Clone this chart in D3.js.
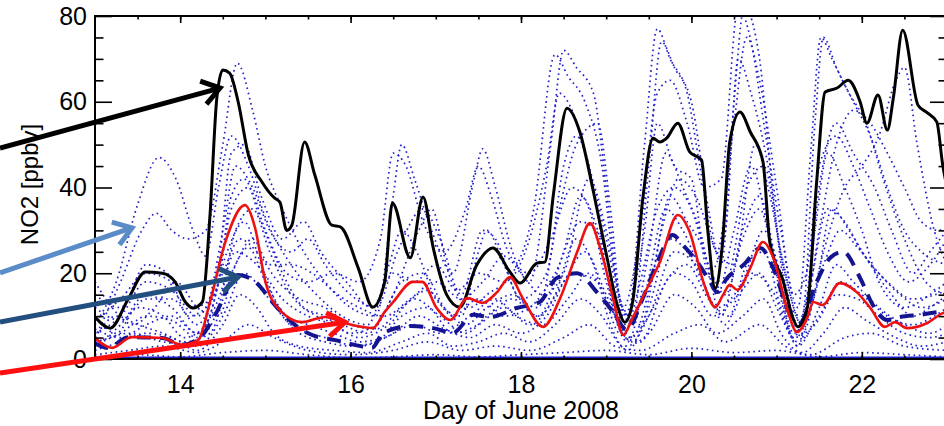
<!DOCTYPE html>
<html lang="en">
<head>
    <meta charset="UTF-8">
    <title>NO2 June 2008</title>
    <script src="https://cdn.jsdelivr.net/npm/d3@7"></script>
    <style>
        body{margin:0;background:#fff;}
        text{font-family:"Liberation Sans",Helvetica,Arial,sans-serif;fill:#000;}
        .axis path{display:none;}
        .axis line{stroke:#000;stroke-width:1.6;}
        .axis text{font-size:25px;}
        .member{fill:none;stroke:#1f1fcc;stroke-width:1.7;stroke-dasharray:1.6 3.6;}
    </style>
</head>
<body>
<div class="app"></div>
<script>
    // tick values
    var xMajor = [14,16,18,20,22];
    var xMinor = [13.5,14,14.5,15,15.5,16,16.5,17,17.5,18,18.5,19,19.5,20,20.5,21,21.5,22,22.5];
    var yMajor = [0,20,40,60,80];
    var yMinor = [5,10,15,25,30,35,45,50,55,65,70,75];

    // observed (black)
    var observed = [[13.00,9.8],[13.18,7.2],[13.39,14],[13.59,20.3],[13.79,20],[13.94,18],[14.06,13.3],[14.15,11.9],[14.26,13.3],
        [14.35,33.6],[14.43,60.9],[14.50,67.4],[14.58,66.7],[14.68,60],[14.80,47.6],[14.96,41.3],[15.11,37.5],[15.17,36.6],
        [15.25,30],[15.31,31.2],[15.46,50.6],[15.58,42.9],[15.78,31.2],[15.88,30.8],[16.09,21.2],[16.26,12.1],[16.40,18],
        [16.49,36.4],[16.70,23.6],[16.85,37.8],[16.97,25.9],[17.13,14.9],[17.28,12.1],[17.48,21.9],[17.67,25.9],[17.87,20.3],
        [17.99,17.7],[18.19,22.4],[18.28,22.6],[18.38,38.3],[18.54,58.5],[18.69,53],[18.85,39],[19.01,23.6],[19.13,12.6],
        [19.22,8.6],[19.31,13.3],[19.43,37.5],[19.55,51.5],[19.63,50.6],[19.71,51.5],[19.84,55],[19.98,48.3],[20.12,46.4],
        [20.19,30.5],[20.28,16.5],[20.36,25.9],[20.45,50.6],[20.57,57.6],[20.69,53],[20.84,46],[20.92,27.3],[21.08,18],
        [21.19,9.6],[21.25,7.5],[21.36,11.9],[21.47,41.3],[21.57,62.3],[21.71,63.2],[21.84,65],[21.98,60],[22.06,55],
        [22.19,61.6],[22.30,53.4],[22.37,60.9],[22.48,76.7],[22.66,59.2],[22.77,57.4],[22.88,55.3],[22.95,45.2],[23.00,40]];

    // model (red)
    var model = [[13.00,4.9],[13.20,2.6],[13.43,5.1],[13.79,4.9],[14.02,3.3],[14.21,4.4],[14.35,13.3],[14.53,27.3],[14.76,35.9],
        [14.88,30.5],[15.00,18],[15.19,11],[15.43,8.6],[15.70,9.8],[15.90,8.6],[16.13,7.5],[16.26,7.2],[16.40,11],[16.50,13.3],
        [16.73,18],[16.84,18],[17.01,11.9],[17.17,9.1],[17.37,14.2],[17.55,13.1],[17.72,15.6],[17.87,19.1],[18.02,14.2],
        [18.26,7.5],[18.46,14.2],[18.66,25],[18.81,31.7],[18.93,25.9],[19.08,14.2],[19.20,5.6],[19.31,9.6],[19.48,16.5],
        [19.63,22.6],[19.84,33.6],[19.98,29.6],[20.14,18],[20.28,12.1],[20.37,14.9],[20.45,17.3],[20.54,16.1],[20.69,21.2],
        [20.84,27.3],[20.98,22.6],[21.12,11.9],[21.24,6.3],[21.36,9.6],[21.43,13.3],[21.54,12.6],[21.74,17.7],[21.94,15.6],
        [22.10,11.9],[22.27,7.5],[22.39,8.6],[22.53,7.2],[22.77,8.4],[22.95,10.7],[23.00,11]];

    // ensemble mean (dashed)
    var ensMean = [[13.00,3.7],[13.15,2.6],[13.39,5.1],[13.79,4.9],[14.02,3.3],[14.26,5.6],[14.41,10.3],[14.68,19.6],[14.88,18],
        [15.11,12.6],[15.35,7.9],[15.55,5.6],[15.82,4.4],[16.05,3.3],[16.25,2.6],[16.38,6],[16.70,7.7],[16.97,7.2],[17.20,6.1],
        [17.44,10.3],[17.64,9.8],[17.95,11.9],[18.22,13.3],[18.42,18.9],[18.66,20],[18.89,15.6],[19.08,11],[19.24,6.8],
        [19.43,14.2],[19.60,22.6],[19.78,28.9],[19.90,26.6],[20.07,22.6],[20.22,18],[20.30,15.6],[20.42,18.9],[20.61,21.9],
        [20.81,25.9],[20.96,21.2],[21.16,10.3],[21.27,8.4],[21.47,18],[21.63,23.6],[21.78,25],[21.98,18.9],[22.13,12.6],
        [22.30,9.1],[22.45,9.8],[22.68,10.3],[22.95,11],[23.00,11]];

    // ensemble members (dotted)
    var m01 = [[13.0,8],[13.25,18],[13.5,36],[13.75,47],[13.95,42],[14.15,30],[14.3,24],[14.45,40],[14.6,52],[14.8,45],[15.0,33],[15.3,22],[15.6,15],[15.9,10],[16.2,8],[16.45,22],[16.6,30],[16.8,24],[17.0,14],[17.3,10],[17.5,25],[17.6,30],[17.8,22],[18.0,14],[18.3,20],[18.5,45],[18.65,52],[18.85,40],[19.05,15],[19.25,4],[19.5,25],[19.7,48],[19.9,40],[20.1,30],[20.3,15],[20.5,30],[20.7,45],[20.9,30],[21.1,10],[21.25,3],[21.45,30],[21.6,48],[21.8,40],[22.0,30],[22.2,18],[22.5,12],[22.8,15],[23.0,18]];
    var m02 = [[13.0,5],[13.3,18],[13.55,30],[13.72,34],[13.9,30],[14.1,28],[14.3,30],[14.5,50],[14.67,69],[14.85,58],[15.0,45],[15.2,35],[15.45,25],[15.7,18],[16.0,12],[16.3,10],[16.5,38],[16.6,50],[16.75,42],[16.95,30],[17.2,20],[17.45,42],[17.55,49],[17.7,40],[17.9,25],[18.1,18],[18.35,50],[18.5,72],[18.65,68],[18.85,62],[19.0,40],[19.15,15],[19.3,8],[19.5,45],[19.65,74],[19.8,68],[20.0,60],[20.2,35],[20.35,22],[20.5,60],[20.62,82],[20.8,70],[20.95,40],[21.15,12],[21.3,10],[21.45,55],[21.55,75],[21.7,68],[21.9,60],[22.1,52],[22.3,40],[22.5,30],[22.7,25],[23.0,22]];
    var m03 = [[13.0,15],[13.3,12],[13.6,22],[13.85,20],[14.1,10],[14.3,12],[14.5,30],[14.65,45],[14.85,40],[15.05,30],[15.3,25],[15.5,28],[15.7,22],[16.0,15],[16.3,12],[16.55,25],[16.85,35],[17.05,28],[17.3,15],[17.55,30],[17.7,28],[17.95,15],[18.2,12],[18.45,35],[18.65,50],[18.9,55],[19.05,35],[19.2,10],[19.45,30],[19.6,55],[19.8,45],[20.0,42],[20.2,20],[20.4,30],[20.55,70],[20.7,62],[20.9,45],[21.1,18],[21.3,5],[21.5,40],[21.7,55],[21.9,48],[22.15,40],[22.35,30],[22.6,20],[22.8,25],[23.0,30]];
    var m04 = [[13.0,3],[13.3,8],[13.6,15],[13.9,12],[14.2,6],[14.45,18],[14.6,38],[14.75,42],[14.95,32],[15.2,20],[15.45,12],[15.7,10],[16.0,6],[16.3,8],[16.6,18],[16.85,20],[17.1,12],[17.35,8],[17.6,12],[17.9,15],[18.2,10],[18.5,25],[18.7,38],[18.9,30],[19.1,12],[19.3,5],[19.55,20],[19.75,38],[19.95,32],[20.15,25],[20.35,10],[20.6,30],[20.8,38],[21.0,22],[21.2,6],[21.45,15],[21.65,35],[21.85,30],[22.1,22],[22.35,15],[22.6,10],[22.8,12],[23.0,15]];
    var m05 = [[13.0,10],[13.25,6],[13.5,12],[13.8,10],[14.05,5],[14.3,8],[14.55,25],[14.75,32],[14.95,22],[15.15,12],[15.4,6],[15.7,4],[16.0,3],[16.3,4],[16.6,10],[16.9,12],[17.2,6],[17.5,8],[17.8,12],[18.1,8],[18.4,15],[18.65,28],[18.85,22],[19.05,8],[19.25,2],[19.5,12],[19.75,28],[19.95,25],[20.2,15],[20.4,8],[20.65,22],[20.85,25],[21.05,12],[21.25,3],[21.5,12],[21.7,22],[21.9,18],[22.2,12],[22.5,8],[22.8,6],[23.0,8]];
    var m06 = [[13.0,2],[13.3,4],[13.6,6],[13.9,5],[14.2,2],[14.5,8],[14.7,15],[14.9,12],[15.1,6],[15.4,3],[15.8,2],[16.2,1.5],[16.6,4],[16.9,6],[17.2,3],[17.5,4],[17.8,6],[18.1,4],[18.4,8],[18.7,14],[18.95,10],[19.2,3],[19.5,6],[19.8,15],[20.05,12],[20.3,6],[20.6,10],[20.85,14],[21.05,6],[21.3,1.5],[21.55,6],[21.8,12],[22.05,9],[22.4,5],[22.7,3],[23.0,4]];
    var m07 = [[13.0,6],[13.3,10],[13.6,18],[13.9,16],[14.2,10],[14.45,22],[14.6,48],[14.75,50],[14.95,38],[15.2,28],[15.45,32],[15.65,25],[15.95,18],[16.25,12],[16.5,20],[16.75,18],[17.0,22],[17.25,16],[17.5,20],[17.8,18],[18.05,25],[18.3,45],[18.45,62],[18.6,58],[18.8,45],[19.0,28],[19.2,12],[19.4,30],[19.6,62],[19.75,65],[19.95,55],[20.15,40],[20.35,42],[20.55,82],[20.7,74],[20.85,55],[21.05,30],[21.25,12],[21.4,48],[21.52,75],[21.65,70],[21.85,62],[22.05,55],[22.25,42],[22.5,28],[22.75,18],[23.0,15]];
    var m08 = [[13.0,4],[13.3,6],[13.6,10],[13.9,9],[14.2,5],[14.45,12],[14.65,30],[14.85,35],[15.05,25],[15.3,15],[15.6,10],[15.9,8],[16.2,6],[16.5,15],[16.8,30],[16.95,35],[17.15,20],[17.4,12],[17.6,15],[17.9,20],[18.15,35],[18.4,71],[18.55,66],[18.75,60],[18.95,45],[19.1,20],[19.25,10],[19.45,50],[19.6,77],[19.75,70],[19.95,62],[20.1,45],[20.3,25],[20.5,55],[20.65,75],[20.8,65],[21.0,40],[21.2,15],[21.35,20],[21.5,45],[21.7,52],[21.9,45],[22.1,35],[22.3,25],[22.55,18],[22.8,22],[23.0,28]];
    var m09 = [[13.0,12],[13.3,9],[13.6,14],[13.9,14],[14.2,8],[14.5,20],[14.7,28],[14.9,25],[15.15,18],[15.4,14],[15.7,12],[16.0,8],[16.3,7],[16.6,12],[16.9,16],[17.2,10],[17.5,14],[17.8,10],[18.1,12],[18.4,20],[18.7,32],[18.95,28],[19.2,8],[19.45,15],[19.7,35],[19.9,30],[20.15,20],[20.4,18],[20.65,40],[20.85,45],[21.05,25],[21.3,8],[21.5,30],[21.7,50],[21.9,58],[22.1,55],[22.3,48],[22.5,40],[22.7,32],[22.9,30],[23.0,31]];
    var m10 = [[13.0,7],[13.3,5],[13.6,8],[13.9,10],[14.2,6],[14.45,14],[14.65,25],[14.9,22],[15.2,14],[15.5,10],[15.8,8],[16.1,5],[16.45,8],[16.75,14],[17.05,10],[17.35,6],[17.6,10],[17.9,14],[18.2,10],[18.5,18],[18.75,25],[19.0,15],[19.25,5],[19.5,10],[19.8,25],[20.05,22],[20.3,12],[20.6,18],[20.85,30],[21.05,20],[21.3,6],[21.55,25],[21.8,40],[22.0,45],[22.2,52],[22.4,65],[22.5,68],[22.65,50],[22.85,30],[23.0,22]];
    var m11 = [[13.0,1],[13.4,2],[13.8,3],[14.2,1.5],[14.5,4],[14.8,8],[15.1,5],[15.5,2],[16.0,1],[16.5,2],[16.9,4],[17.3,2],[17.7,3],[18.1,2],[18.5,5],[18.8,8],[19.1,3],[19.4,2],[19.8,6],[20.1,8],[20.4,4],[20.8,8],[21.1,3],[21.4,1],[21.8,5],[22.1,6],[22.5,3],[23.0,2]];
    var m12 = [[13.0,18],[13.2,12],[13.45,8],[13.7,12],[13.95,18],[14.2,12],[14.45,10],[14.65,22],[14.85,28],[15.05,22],[15.3,22],[15.55,20],[15.85,15],[16.1,12],[16.4,10],[16.7,14],[17.0,18],[17.3,14],[17.55,18],[17.8,24],[18.0,20],[18.25,15],[18.5,20],[18.8,42],[19.0,30],[19.2,12],[19.4,8],[19.65,30],[19.85,42],[20.05,38],[20.3,25],[20.5,22],[20.75,50],[20.9,40],[21.1,20],[21.3,8],[21.55,22],[21.75,30],[21.95,26],[22.2,20],[22.45,15],[22.7,12],[23.0,14]];
    var m13 = [[13.0,5],[13.25,10],[13.5,8],[13.8,6],[14.05,4],[14.35,6],[14.6,20],[14.8,26],[15.0,18],[15.25,10],[15.5,8],[15.8,6],[16.1,4],[16.4,5],[16.75,8],[17.05,6],[17.4,10],[17.7,14],[17.95,10],[18.25,8],[18.55,14],[18.8,20],[19.05,12],[19.3,4],[19.55,12],[19.8,20],[20.0,18],[20.25,10],[20.55,15],[20.8,20],[21.0,12],[21.25,4],[21.5,10],[21.75,18],[22.0,15],[22.3,10],[22.6,8],[22.85,10],[23.0,12]];
    var m14 = [[13.0,9],[13.3,14],[13.6,20],[13.9,18],[14.15,12],[14.4,15],[14.6,35],[14.8,40],[15.0,30],[15.25,20],[15.5,18],[15.8,20],[16.1,18],[16.35,28],[16.5,48],[16.65,45],[16.85,32],[17.1,25],[17.35,35],[17.5,45],[17.65,38],[17.85,25],[18.1,20],[18.35,28],[18.6,40],[18.8,35],[19.0,18],[19.2,6],[19.4,18],[19.6,35],[19.8,40],[20.0,35],[20.2,22],[20.4,15],[20.6,28],[20.8,35],[21.0,20],[21.2,5],[21.4,18],[21.6,35],[21.8,32],[22.0,25],[22.3,18],[22.6,14],[23.0,16]];
    var m15 = [[13.0,0.5],[13.5,1],[14.0,0.5],[14.5,1.5],[15.0,2],[15.5,1],[16.0,0.3],[16.5,0.5],[17.0,1],[17.5,0.5],[18.0,1],[18.5,1.5],[19.0,2],[19.5,1],[20.0,2.5],[20.5,1.5],[21.0,2],[21.5,0.5],[22.0,1.5],[22.5,1],[23.0,0.5]];
    var m16 = [[13.0,3],[13.4,6],[13.8,4],[14.2,3],[14.5,10],[14.75,20],[15.0,15],[15.3,8],[15.7,5],[16.1,3],[16.5,6],[16.8,10],[17.1,7],[17.4,5],[17.7,8],[18.0,6],[18.3,10],[18.6,20],[18.9,18],[19.15,6],[19.4,4],[19.7,18],[19.95,22],[20.2,14],[20.45,10],[20.7,20],[20.95,16],[21.2,5],[21.45,8],[21.7,15],[21.95,14],[22.2,10],[22.5,6],[22.8,5],[23.0,6]];
    var members = [m01,m02,m03,m04,m05,m06,m07,m08,m09,m10,m11,m12,m13,m14,m15,m16];

    // members that stay at zero
    var floorLine = [[13.0,0.3],[23.0,0.3]];

    // annotation arrows (start outside the plot, tip on a curve)
    var arrowFrom = [[11.885,49.2],[11.885,20.1],[11.885,8.6],[11.885,-3.3]];
    var arrowTo   = [[14.467,63.2],[13.434,30.6],[14.678,19.1],[15.934,8.6]];
    var arrowColors = ['#000000','#5b8cc8','#234f80','#ff1010'];

    var width = 944, height = 426;
    var svg = d3.select('.app').append('svg')
        .attr('width', width).attr('height', height)
        .style('display','block');

    var x = d3.scaleLinear().domain([13,23]).range([95,947]);
    var y = d3.scaleLinear().domain([0,80]).range([359,16]);

    svg.append('clipPath').attr('id','plot')
        .append('rect')
        .attr('x', x(13)).attr('y', y(80))
        .attr('width', x(23) - x(13)).attr('height', y(0) - y(80));

    var line = d3.line()
        .x(function(d){ return x(d[0]); })
        .y(function(d){ return y(d[1]); })
        .curve(d3.curveMonotoneX);

    var plot = svg.append('g').attr('clip-path','url(#plot)');

    //dotted ensemble
    plot.selectAll('.member')
        .data(members)
        .enter().append('path')
        .attr('class','member')
        .attr('d', line);

    plot.append('path')
        .datum(floorLine)
        .attr('d', line)
        .attr('fill','none')
        .attr('stroke','#1c1cc8')
        .attr('stroke-width',2.5);

    //dashed mean
    plot.append('path')
        .datum(ensMean)
        .attr('d', line)
        .attr('fill','none')
        .attr('stroke','#141490')
        .attr('stroke-width',4)
        .attr('stroke-dasharray','14 9');

    plot.append('path')
        .datum(observed)
        .attr('d', line)
        .attr('fill','none')
        .attr('stroke','#000')
        .attr('stroke-width',3)
        .attr('stroke-linejoin','round');

    plot.append('path')
        .datum(model)
        .attr('d', line)
        .attr('fill','none')
        .attr('stroke','#ee1111')
        .attr('stroke-width',2.6)
        .attr('stroke-linejoin','round');

    // axes, ticks point inward
    svg.append('g').attr('class','axis')
        .attr('transform','translate(' + x(13) + ',0)')
        .call(d3.axisLeft(y).tickValues(yMinor).tickSize(-8.5).tickFormat(''));
    svg.append('g').attr('class','axis')
        .attr('transform','translate(' + x(13) + ',0)')
        .call(d3.axisLeft(y).tickValues(yMajor).tickSize(-17).tickPadding(8));
    svg.append('g').attr('class','axis')
        .attr('transform','translate(' + x(23) + ',0)')
        .call(d3.axisRight(y).tickValues(yMinor).tickSize(-8.5).tickFormat(''));
    svg.append('g').attr('class','axis')
        .attr('transform','translate(' + x(23) + ',0)')
        .call(d3.axisRight(y).tickValues(yMajor).tickSize(-17).tickFormat(''));

    svg.append('g').attr('class','axis')
        .attr('transform','translate(0,' + y(0) + ')')
        .call(d3.axisBottom(x).tickValues(xMinor).tickSize(-3.5).tickFormat(''));
    svg.append('g').attr('class','axis')
        .attr('transform','translate(0,' + y(0) + ')')
        .call(d3.axisBottom(x).tickValues(xMajor).tickSize(-7).tickPadding(16));
    svg.append('g').attr('class','axis')
        .attr('transform','translate(0,' + y(80) + ')')
        .call(d3.axisTop(x).tickValues(xMinor).tickSize(-3.5).tickFormat(''));
    svg.append('g').attr('class','axis')
        .attr('transform','translate(0,' + y(80) + ')')
        .call(d3.axisTop(x).tickValues(xMajor).tickSize(-7).tickFormat(''));

    svg.selectAll('.axis text').attr('font-size',25);

    //frame
    svg.append('rect')
        .attr('x', x(13)).attr('y', y(80))
        .attr('width', x(23) - x(13)).attr('height', y(0) - y(80))
        .attr('fill','none')
        .attr('stroke','#000')
        .attr('stroke-width',2);

    svg.append('text')
        .attr('x', (x(13) + x(23)) / 2)
        .attr('y', 419)
        .attr('text-anchor','middle')
        .style('font-size','25px')
        .text('Day of June 2008');

    svg.append('text')
        .attr('transform','translate(38,' + ((y(0) + y(80)) / 2 - 3) + ') rotate(-90)')
        .attr('text-anchor','middle')
        .style('font-size','24px')
        .text('NO2 [ppbv]');

    //arrows
    var headLen = 21, headAng = Math.PI / 5.2;
    arrowFrom.forEach(function(f, i){
        var t = arrowTo[i];
        var x0 = x(f[0]), y0 = y(f[1]), x1 = x(t[0]), y1 = y(t[1]);
        var a = Math.atan2(y1 - y0, x1 - x0);
        var g = svg.append('g')
            .attr('stroke', arrowColors[i])
            .attr('stroke-width', 5)
            .attr('fill','none');
        g.append('line')
            .attr('x1', x0).attr('y1', y0)
            .attr('x2', x1 - 2 * Math.cos(a)).attr('y2', y1 - 2 * Math.sin(a));
        g.append('path')
            .attr('stroke-linejoin','miter')
            .attr('d', 'M' + (x1 - headLen * Math.cos(a - headAng)) + ',' + (y1 - headLen * Math.sin(a - headAng)) +
                'L' + x1 + ',' + y1 +
                'L' + (x1 - headLen * Math.cos(a + headAng)) + ',' + (y1 - headLen * Math.sin(a + headAng)));
    });
</script>
</body>
</html>
